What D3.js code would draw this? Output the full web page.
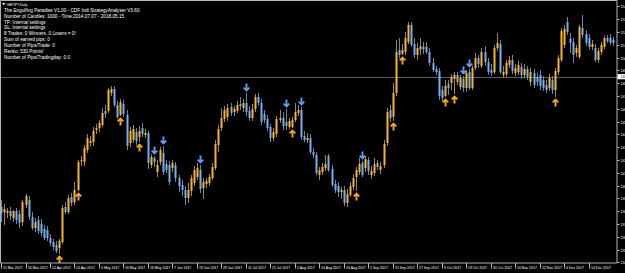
<!DOCTYPE html>
<html>
<head>
<meta charset="utf-8">
<script src="https://cdn.jsdelivr.net/npm/d3@7"></script>
<style>
  html, body { margin: 0; background: #000; overflow: hidden; }
  svg { display: block; font-family: "Liberation Sans", Arial, sans-serif; }
</style>
</head>
<body>
<svg id="chart"></svg>
<script>
// GBPJPY daily, 20 Mar 2017 .. 27 Dec 2017 (bar 0 = 20 Mar)
const opens = [
  139.11,138.96,138.58,138.51,138.66,138.13,138.66,138.43,137.83,139.11,
  139.48,138.21,137.38,137.98,137.68,137.31,137.23,136.63,136.33,136.11,
  135.88,136.33,138.96,138.58,139.71,139.33,140.23,142.41,142.33,143.23,
  143.76,143.83,144.73,144.88,145.11,146.16,146.16,147.51,147.81,146.61,
  145.86,146.68,145.86,143.76,143.98,144.58,144.21,144.88,144.36,144.51,
  142.11,142.63,141.58,142.33,143.01,142.18,142.11,141.88,142.11,141.13,
  140.61,140.23,139.63,140.16,140.76,141.21,141.73,140.38,140.68,140.76,
  141.13,141.88,143.61,144.88,145.56,145.71,146.46,146.08,146.16,146.68,
  146.38,146.76,146.16,145.63,146.31,147.21,146.76,145.93,145.56,144.96,
  144.13,144.43,145.48,145.63,145.33,144.96,144.96,145.48,146.01,146.23,
  144.28,143.98,144.13,143.08,142.86,141.36,141.58,141.88,142.78,141.81,
  140.68,140.53,140.08,140.23,139.26,139.86,140.46,141.21,141.58,142.26,
  141.88,142.48,141.36,141.51,142.26,141.73,142.11,143.76,146.23,145.71,
  147.51,150.73,150.43,150.58,151.33,152.61,151.18,150.36,151.03,150.81,
  150.96,150.58,149.76,149.31,149.16,147.73,147.28,148.18,148.26,148.56,
  148.86,147.96,148.56,147.88,149.08,147.88,149.38,150.13,149.53,150.58,
  149.83,149.23,149.08,150.88,151.18,148.86,148.93,149.61,149.98,149.01,
  149.08,149.46,148.86,149.31,148.33,149.01,148.71,148.86,148.48,148.11,
  147.88,148.48,147.73,149.08,149.98,151.11,152.83,151.56,151.33,150.51,
  150.21,152.38,151.93,151.63,150.96,150.88,149.98,150.58,150.96,151.63,
  151.63,151.48
];
const highs = [
  139.48,139.48,139.18,138.88,138.96,138.73,138.88,138.73,139.48,139.93,
  139.78,138.58,138.13,138.28,138.06,137.61,137.53,136.93,136.56,136.41,
  136.56,139.11,139.33,139.86,140.01,140.83,142.48,142.78,143.61,144.43,
  144.28,144.96,145.18,145.48,146.38,146.61,147.88,148.03,148.03,146.91,
  147.06,146.98,146.23,144.96,145.11,144.88,145.03,145.26,144.81,144.66,
  142.93,142.78,142.48,143.46,143.53,142.48,142.41,142.48,142.33,141.36,
  140.98,140.53,140.76,141.36,142.03,142.26,142.11,141.13,141.13,141.43,
  142.26,143.98,145.11,146.38,146.53,146.68,146.76,146.53,146.91,147.21,
  147.06,147.51,146.53,146.68,147.43,147.51,147.06,146.23,145.86,145.18,
  144.88,145.78,146.23,146.08,146.31,145.63,145.71,146.76,146.61,146.46,
  144.66,144.51,144.43,143.38,143.08,141.96,142.26,142.86,142.93,142.11,
  140.98,140.83,140.46,140.53,140.31,140.83,141.43,141.96,142.63,142.41,
  142.78,142.71,142.03,142.63,142.48,142.33,143.98,146.38,146.61,148.26,
  151.48,151.63,151.18,152.08,152.83,152.83,151.63,151.26,151.63,151.33,
  151.33,150.88,150.13,149.53,149.38,148.03,148.48,148.48,148.93,149.08,
  149.08,148.86,148.78,149.23,149.31,149.53,150.51,150.36,150.88,151.03,
  150.13,149.68,151.11,152.01,151.48,149.53,149.98,150.28,150.36,149.68,
  149.91,149.76,149.68,149.53,149.38,149.31,149.01,149.23,148.78,148.48,
  148.93,148.78,149.38,150.36,152.38,152.61,153.21,152.01,151.63,151.11,
  152.61,153.36,152.23,151.93,151.48,151.18,150.88,151.33,151.78,151.86,
  151.93,151.71
];
const lows = [
  138.36,137.83,137.61,138.13,137.98,137.83,137.68,137.38,137.53,138.88,
  137.98,137.23,137.08,136.93,136.78,136.48,136.41,136.03,135.73,135.51,
  135.43,136.18,138.43,138.43,139.03,139.11,140.16,142.03,142.03,143.01,
  143.46,143.53,144.43,144.58,144.96,145.63,146.01,147.28,146.46,145.56,
  145.78,145.71,143.23,143.46,143.76,143.61,143.83,144.21,144.13,141.81,
  141.88,141.96,141.21,142.11,141.36,141.51,140.61,141.58,140.83,140.08,
  139.78,139.11,139.26,139.78,140.53,140.98,140.01,139.56,140.38,140.53,
  140.98,141.73,143.08,144.66,145.33,145.41,145.78,145.78,146.01,146.23,
  146.08,145.78,145.41,145.41,146.08,146.53,145.11,145.26,144.66,143.83,
  143.91,144.21,145.26,144.73,144.73,144.81,144.88,145.33,145.78,143.98,
  143.83,143.76,142.93,142.63,141.36,140.98,141.36,141.66,141.58,140.46,
  140.01,139.71,139.56,139.03,138.96,139.71,140.23,140.16,141.36,141.21,
  141.58,141.36,141.06,141.28,141.73,141.43,141.88,143.53,145.33,145.41,
  147.28,150.13,150.36,150.36,151.18,150.96,150.13,149.98,150.36,150.43,
  150.43,149.53,149.08,148.86,146.98,146.91,147.21,147.36,147.73,147.43,
  148.11,147.73,147.58,147.58,147.73,147.73,149.23,149.38,149.38,149.53,
  148.86,148.78,148.93,150.66,148.93,148.63,148.71,149.38,148.93,148.78,
  148.86,148.56,148.63,148.48,148.03,147.88,148.03,147.73,147.66,147.51,
  147.66,147.43,147.21,148.86,149.83,150.88,151.86,150.51,149.76,150.21,
  150.06,151.63,151.03,150.73,150.73,149.83,149.76,150.36,150.81,151.26,
  151.11,151.03
];
const closes = [
  138.58,138.51,138.81,138.66,138.28,138.66,137.98,137.76,139.33,139.78,
  138.21,137.38,137.83,137.16,137.01,136.63,136.63,136.26,135.96,135.66,
  136.41,138.88,138.58,139.63,139.26,140.23,142.33,142.48,143.38,144.13,
  143.91,144.66,144.88,145.26,146.01,145.93,147.73,147.81,146.61,145.71,
  146.83,145.93,143.53,144.66,144.81,143.91,144.66,144.43,144.51,142.26,
  142.71,142.33,142.11,143.23,141.58,141.73,140.83,142.26,141.13,140.53,
  140.23,139.63,140.23,141.13,141.73,141.88,140.31,140.83,140.91,141.21,
  141.96,143.68,144.81,145.63,146.23,146.38,146.01,146.31,146.61,146.53,
  146.76,146.08,145.63,146.31,147.21,146.76,145.33,145.48,144.88,144.13,
  144.58,145.56,145.63,145.03,145.03,145.41,145.48,146.08,146.23,144.21,
  143.98,144.13,143.08,142.86,141.51,141.73,141.96,142.18,141.73,140.61,
  140.23,140.08,140.23,139.26,139.93,140.53,141.13,141.73,142.18,141.36,
  142.56,141.66,141.66,142.18,141.96,142.03,143.68,146.08,145.63,147.51,
  150.58,150.36,150.73,151.63,152.61,151.11,150.36,150.88,150.73,150.96,
  150.58,149.76,149.23,149.08,147.28,147.13,148.03,147.88,148.71,148.86,
  148.33,148.63,147.88,149.01,147.88,149.38,150.13,149.68,150.58,149.83,
  149.08,149.01,150.88,151.26,149.08,149.08,149.76,149.98,149.16,149.38,
  149.61,148.86,149.31,148.71,149.08,148.11,148.33,148.03,147.88,147.73,
  148.63,147.73,149.16,150.13,152.16,152.31,152.08,151.26,150.36,150.88,
  152.46,151.86,151.26,150.96,151.18,149.98,150.66,151.11,151.63,151.41,
  151.26,151.26
];

// signal arrows (bar index)
const upSignals   = [20, 26, 40, 46, 96, 117, 129, 132, 146, 149, 182];
const downSignals = [51, 54, 66, 81, 94, 99, 119, 152, 154];

const dateTickBars = [1,9,17,25,33,41,49,57,65,73,81,89,97,105,113,121,129,137,145,153,161,169,177,185,193];
const dateTickLabels = [
  '21 Mar 2017','31 Mar 2017','12 Apr 2017','24 Apr 2017','4 May 2017','16 May 2017','26 May 2017',
  '7 Jun 2017','19 Jun 2017','29 Jun 2017','11 Jul 2017','21 Jul 2017','2 Aug 2017','14 Aug 2017',
  '24 Aug 2017','5 Sep 2017','15 Sep 2017','27 Sep 2017','9 Oct 2017','19 Oct 2017','31 Oct 2017',
  '10 Nov 2017','22 Nov 2017','4 Dec 2017','14 Dec 2017'
];
const priceTicks = [134.80,135.76,136.72,137.68,138.64,139.60,140.56,141.52,142.48,143.44,144.40,
  145.36,146.32,147.28,148.24,149.20,150.16,151.12,152.08,153.04,154.00];
const bidPrice = 148.73;

const symbolTitle = 'GBPJPY,Daily';
const infoLines = [
  'The Engulfing Paradise V1.00  - CDF Indi StrategyAnalyser V3.60',
  'Number of Candles: 1000 - Time:2014.07.07 - 2018.05.15',
  'TP: Internal settings',
  'SL: Internal settings',
  '8 Trades: 0 Winners, 0 Losers = 0!',
  'Sum of earned pips: 0',
  'Number of Pips/Trade: 0',
  'Renko: 530 Points!',
  'Number of Pips/Tradingday: 0.0'
];

const COL = {
  bull: '#f6b52c', bear: '#7aaef0',
  bullWick: '#a08a45', bearWick: '#6a86ad',
  upArrow: '#f2a524', downArrow: '#5d9cf2',
  frame: '#b4b4b4', bid: '#5a5e68', text: '#ffffff'
};

const W = 625, H = 273;
const PLOT = { left: 0.5, right: 617, top: 0.5, bottom: 263 };

const svg = d3.select('#chart').attr('width', W).attr('height', H);
svg.append('rect').attr('width', W).attr('height', H).attr('fill', '#000');

const x = d3.scaleLinear().domain([0, 201]).range([-2, 613.06]);
const y = d3.scaleLinear().domain([134.76, 154.33]).range([263, 2]);

const bars = opens.map((o, i) => ({ i, o, h: highs[i], l: lows[i], c: closes[i], up: closes[i] >= o }));

svg.append('clipPath').attr('id', 'plot-clip').append('rect')
  .attr('x', PLOT.left).attr('y', PLOT.top)
  .attr('width', PLOT.right - PLOT.left).attr('height', PLOT.bottom - PLOT.top);

const plot = svg.append('g').attr('clip-path', 'url(#plot-clip)');

// bid line
plot.append('line')
  .attr('x1', PLOT.left).attr('x2', PLOT.right)
  .attr('y1', Math.round(y(bidPrice)) + 0.5).attr('y2', Math.round(y(bidPrice)) + 0.5)
  .attr('stroke', COL.bid).attr('stroke-width', 1);

// candles
const cg = plot.selectAll('.candle').data(bars).enter().append('g').attr('class', 'candle');
cg.append('line')
  .attr('x1', d => Math.round(x(d.i)) + 0.5).attr('x2', d => Math.round(x(d.i)) + 0.5)
  .attr('y1', d => y(d.h)).attr('y2', d => y(d.l))
  .attr('stroke', d => d.up ? COL.bullWick : COL.bearWick).attr('stroke-width', 1);
cg.append('rect')
  .attr('x', d => Math.round(x(d.i)) - 0.5).attr('width', 2)
  .attr('y', d => y(Math.max(d.o, d.c)))
  .attr('height', d => Math.max(1, Math.abs(y(d.o) - y(d.c))))
  .attr('fill', d => d.up ? COL.bull : COL.bear);

// arrows: up under the low, down over the high
const arrowUp = 'M0,8V1M-2.8,3.9L0,1.1L2.8,3.9';
plot.selectAll('.arr-up').data(upSignals).enter().append('path')
  .attr('transform', i => `translate(${Math.round(x(i)) + 0.5},${y(lows[i]) + 1.5})`)
  .attr('d', arrowUp).attr('fill', 'none')
  .attr('stroke', COL.upArrow).attr('stroke-width', 1.9);
plot.selectAll('.arr-dn').data(downSignals).enter().append('path')
  .attr('transform', i => `translate(${Math.round(x(i)) + 0.5},${y(highs[i]) - 1.5}) scale(1,-1)`)
  .attr('d', arrowUp).attr('fill', 'none')
  .attr('stroke', COL.downArrow).attr('stroke-width', 1.9);

// frame
svg.append('path')
  .attr('d', `M${PLOT.left},${PLOT.top}H${PLOT.right}V${PLOT.bottom}H${PLOT.left}Z`)
  .attr('fill', 'none').attr('stroke', COL.frame).attr('stroke-width', 1);

// price axis (right)
const pt = svg.append('g');
priceTicks.forEach(p => {
  const yy = Math.round(y(p)) + 0.5;
  pt.append('line').attr('x1', PLOT.right).attr('x2', PLOT.right + 2.5)
    .attr('y1', yy).attr('y2', yy).attr('stroke', COL.frame);
  pt.append('text').attr('x', PLOT.right + 3.5).attr('y', yy + 1.3)
    .attr('fill', COL.text).attr('font-size', 3.6).text(p.toFixed(2));
});
// bid price label
const by = y(bidPrice);
svg.append('rect').attr('x', PLOT.right + 0.5).attr('y', by - 2.6).attr('width', 12).attr('height', 5.2)
  .attr('fill', '#ffffff');
svg.append('text').attr('x', PLOT.right + 3.5).attr('y', by + 1.3)
  .attr('fill', '#000').attr('font-size', 3.6).text(bidPrice.toFixed(2));

// time axis (bottom)
const tg = svg.append('g');
dateTickBars.forEach((b, k) => {
  const xx = Math.round(x(b)) + 0.5;
  tg.append('line').attr('x1', xx).attr('x2', xx).attr('y1', PLOT.bottom).attr('y2', PLOT.bottom + 5.5)
    .attr('stroke', COL.frame);
  tg.append('text').attr('x', xx + 1.5).attr('y', PLOT.bottom + 6)
    .attr('fill', COL.text).attr('font-size', 3.5).text(dateTickLabels[k]);
});

// top-left labels
svg.append('path').attr('d', 'M2,3H5.4L3.7,5.2Z').attr('fill', COL.text);
svg.append('text').attr('x', 6.5).attr('y', 5.6).attr('fill', COL.text).attr('font-size', 3.3).text(symbolTitle);
infoLines.forEach((t, k) => {
  svg.append('text').attr('x', 4).attr('y', 11.8 + k * 5.85)
    .attr('fill', COL.text).attr('font-size', 4.7).text(t);
});
</script>
</body>
</html>
